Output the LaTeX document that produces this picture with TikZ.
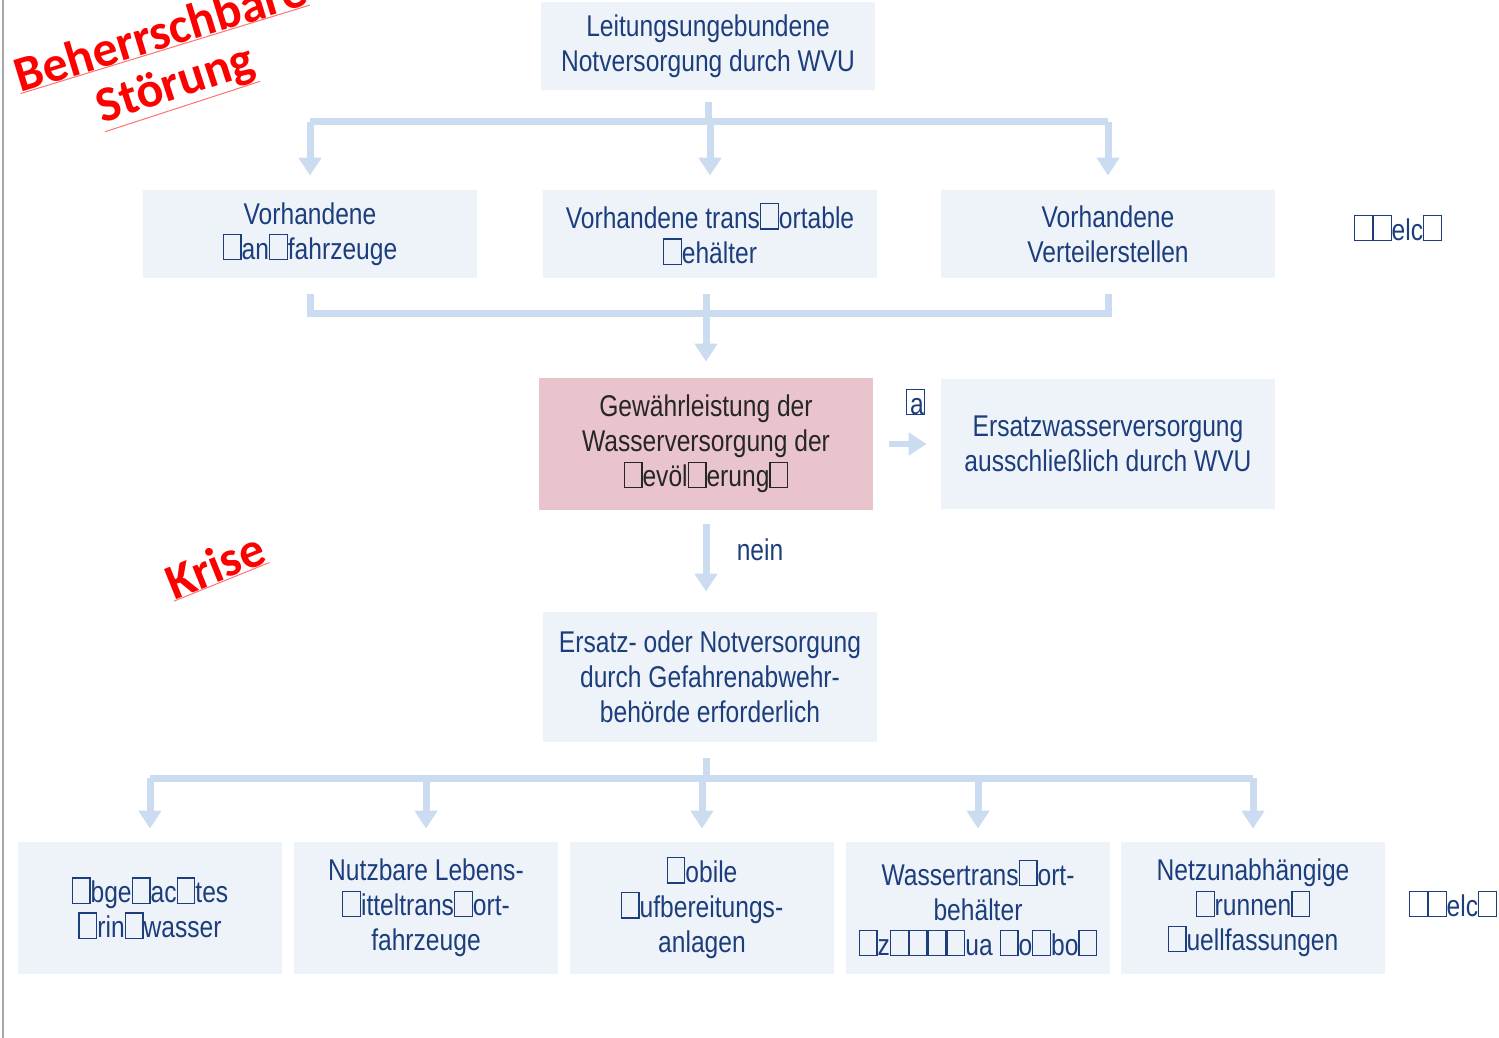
\documentclass[tikz,border=0pt]{standalone}
\usepackage{fontspec}
\usepackage{tikz}
\usetikzlibrary{arrows.meta,positioning}
\setmainfont{Liberation Sans}
\newfontfamily\boxfont[FakeStretch=0.82]{Liberation Sans}
\newfontfamily\stampfont{Carlito}
\definecolor{boxbg}{HTML}{EEF3FA}
\definecolor{boxpink}{HTML}{E9C4CC}
\definecolor{txtblue}{HTML}{1D3E7C}
\definecolor{flow}{HTML}{CBDBF0}
\newcommand{\tofu}{{\setlength{\fboxsep}{0pt}\setlength{\fboxrule}{0.6pt}\fbox{\rule{0pt}{0.8em}\hspace{0.55em}}}}
\tikzset{
  box/.style={fill=boxbg, text=txtblue, font=\boxfont\fontsize{15}{17.5}\selectfont,
    align=center, minimum width=167pt, minimum height=44pt, inner sep=0pt},
  smallbox/.style={box, minimum width=132pt, minimum height=66pt},
  flowline/.style={draw=flow, line width=3.5pt},
  flowarrow/.style={flowline, -{Triangle[width=11pt,length=9pt]}},
  stamp/.style={text=red, font=\stampfont\bfseries\fontsize{25}{28}\selectfont, inner sep=0pt},
  stampline/.style={draw=red!55, line width=0.5pt}
}

\begin{document}
\begin{tikzpicture}[x=0.5pt, y=-0.5pt]
    \useasboundingbox (0,0) rectangle (1499,1038);
    \draw[black!35, line width=1pt] (3,0) -- (3,1038);

    \node[box] (top) at (708,46) {Leitungsungebundene\\Notversorgung durch WVU};
    \node[box] (tank) at (310,234) {Vorhandene\\\tofu an\tofu fahrzeuge};
    \node[box] (behaelter) at (710,234) {Vorhandene trans\tofu ortable\\\tofu ehälter};
    \node[box] (verteiler) at (1108,234) {Vorhandene\\Verteilerstellen};
    \node[box, fill=none, minimum width=0pt] (bsp1) at (1398,228) {\tofu\tofu elc\tofu};

    \node[box, fill=boxpink, text=black!85, minimum height=66pt] (gewaehr) at (706,444)
        {Gewährleistung der\\Wasserversorgung der\\\tofu evöl\tofu erung\tofu};
    \node[box, minimum height=65pt] (ersatzwvu) at (1108,444) {Ersatzwasserversorgung\\ausschließlich durch WVU};
    \node[box, fill=none, minimum width=0pt, minimum height=0pt] (ja) at (915,402) {\tofu\kern-0.5em a};
    \node[box, fill=none, minimum width=0pt, minimum height=0pt] (nein) at (760,550) {nein};

    \node[box, minimum height=65pt] (gefahr) at (710,677)
        {Ersatz- oder Notversorgung\\durch Gefahrenabwehr-\\behörde erforderlich};

    \node[smallbox] (abgepackt) at (150,908) {\tofu bge\tofu ac\tofu tes\\\tofu rin\tofu wasser};
    \node[smallbox] (lebensmittel) at (426,908) {Nutzbare Lebens-\\\tofu itteltrans\tofu ort-\\fahrzeuge};
    \node[smallbox] (mobil) at (702,908) {\tofu obile\\\tofu ufbereitungs-\\anlagen};
    \node[smallbox] (kanister) at (978,908) {Wassertrans\tofu ort-\\behälter\\\tofu z\tofu\tofu\tofu\tofu ua \tofu o\tofu bo\tofu};
    \node[smallbox] (brunnen) at (1253,908) {Netzunabhängige\\\tofu runnen\tofu\\\tofu uellfassungen};
    \node[box, fill=none, minimum width=0pt] (bsp2) at (1453,904) {\tofu\tofu elc\tofu};

    \coordinate (bus1) at (708,122);
    \draw[flowline, shorten <=6pt] (top.south) -- (bus1);
    \draw[flowline] (tank.north |- bus1) -- (verteiler.north |- bus1);
    \foreach \n in {tank,behaelter,verteiler}
        \draw[flowarrow, shorten >=7pt] (\n.north |- bus1) -- (\n.north);

    \coordinate (bus2) at (706,313);
    \draw[flowline, shorten <=8pt, shorten >=8pt] (tank.south) -- (tank.south |- bus2) -- (verteiler.south |- bus2) -- (verteiler.south);
    \draw[flowline, shorten <=8pt] (bus2 |- behaelter.south) -- (bus2);
    \draw[flowarrow, shorten >=8pt] (bus2) -- (gewaehr.north);

    \draw[flowarrow, line width=3pt, shorten <=8pt, shorten >=7pt] (gewaehr.east) -- (ersatzwvu.west);
    \draw[flowarrow, shorten <=7pt, shorten >=10pt] (gewaehr.south) -- (gewaehr.south |- gefahr.north);

    \coordinate (bus3) at (706,778);
    \draw[flowline, shorten <=8pt] (bus3 |- gefahr.south) -- (bus3);
    \draw[flowline] (abgepackt.north |- bus3) -- (brunnen.north |- bus3);
    \foreach \n in {abgepackt,lebensmittel,mobil,kanister,brunnen}
        \draw[flowarrow, shorten >=6.5pt] (\n.north |- bus3) -- (\n.north);

    \node[stamp, rotate=17] (beh) at (160,32) {Beherrschbare};
    \node[stamp, rotate=18] (stoer) at (176,86) {Störung};
    \node[stamp, rotate=22] (krise) at (215,565) {Krise};
    \foreach \n in {beh,stoer,krise}
        \draw[stampline] (\n.south west) -- (\n.south east);
\end{tikzpicture}
\end{document}
